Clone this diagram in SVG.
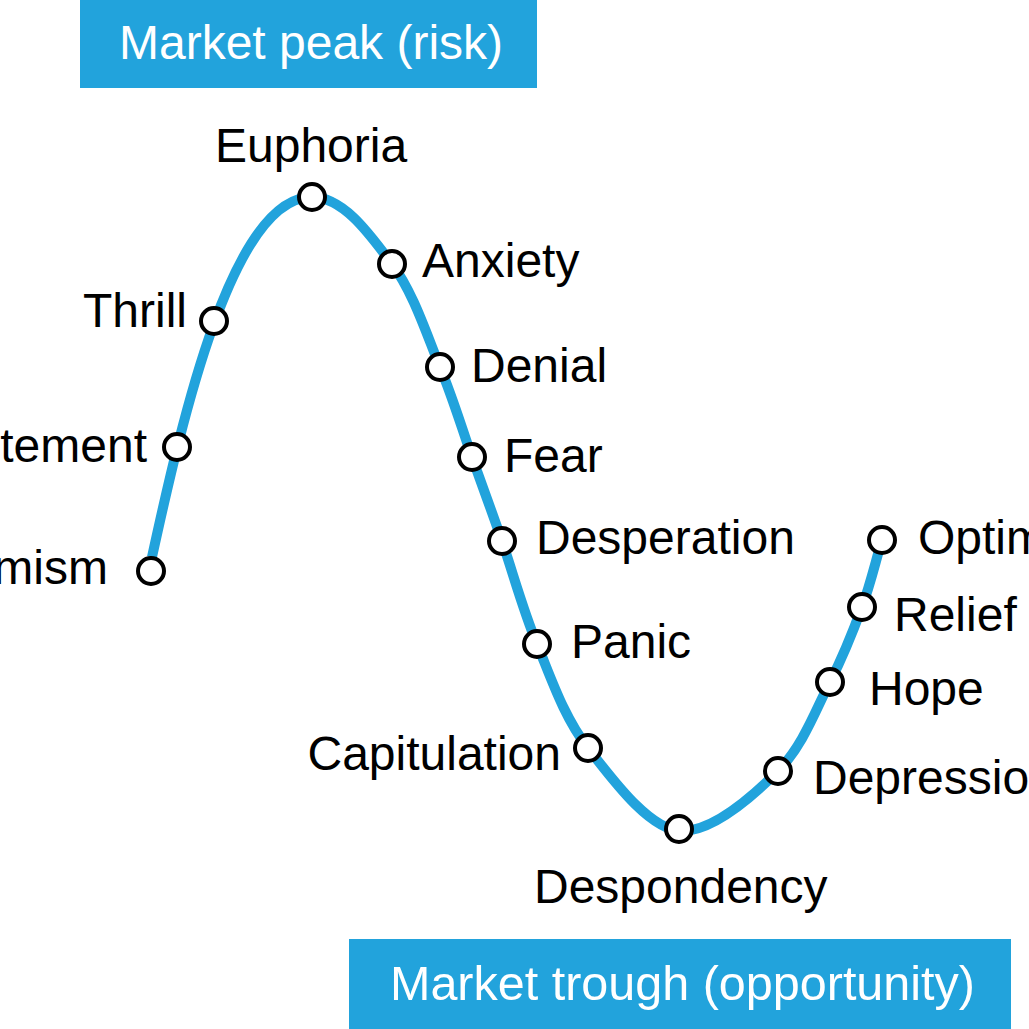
<svg xmlns="http://www.w3.org/2000/svg" width="1029" height="1029" viewBox="0 0 1029 1029">
<style>
.band{fill:#22a3dc}
.bt{font-family:"Liberation Sans",Arial,sans-serif;font-size:48px;fill:#ffffff}
.lbl{font-family:"Liberation Sans",Arial,sans-serif;font-size:48px;fill:#000000}
.end{text-anchor:end}
.curve{fill:none;stroke:#22a3dc;stroke-width:10;stroke-linecap:butt}
.pt{fill:#ffffff;stroke:#000000;stroke-width:4}
</style>
<rect width="1029" height="1029" fill="#ffffff"/>
<g id="peak-band">
<rect class="band" x="80" y="0" width="457" height="88"/>
<text class="bt" x="119" y="59">Market peak (risk)</text>
</g>
<g id="trough-band">
<rect class="band" x="349" y="939" width="662" height="90"/>
<text class="bt" x="390" y="1000" style="font-size:48.5px">Market trough (opportunity)</text>
</g>
<g id="connectors">
<path class="curve" d="M152,557 C182,420 232,197 312,197 C344,197 370.7,235.7 392,264 C413.3,292.3 426.7,334.8 440,367 C453.3,399.2 461.7,428 472,457 C482.3,486 491.2,509.8 502,541 C512.8,572.2 522.7,609.5 537,644 C551.3,678.5 563.8,717 588,748 C612.2,779 650,831 682,831 C714,831 753.3,795.7 778,771 C802.7,746.3 816,709.3 830,682 C844,654.7 853.3,630.7 862,607 C870.7,583.3 875.3,562.3 882,540"/>
</g>
<g id="optimism-start"><circle class="pt" cx="151" cy="571" r="13"/><text class="lbl end" x="108" y="584">Optimism</text></g>
<g id="excitement"><circle class="pt" cx="177" cy="447" r="13"/><text class="lbl end" x="147" y="462">Excitement</text></g>
<g id="thrill"><circle class="pt" cx="214" cy="321" r="13"/><text class="lbl end" x="187" y="327">Thrill</text></g>
<g id="euphoria"><circle class="pt" cx="312" cy="197" r="13"/><text class="lbl" x="215" y="162">Euphoria</text></g>
<g id="anxiety"><circle class="pt" cx="392" cy="264" r="13"/><text class="lbl" x="422" y="277">Anxiety</text></g>
<g id="denial"><circle class="pt" cx="440" cy="367" r="13"/><text class="lbl" x="471" y="382">Denial</text></g>
<g id="fear"><circle class="pt" cx="472" cy="457" r="13"/><text class="lbl" x="504" y="472">Fear</text></g>
<g id="desperation"><circle class="pt" cx="502" cy="541" r="13"/><text class="lbl" x="536" y="554">Desperation</text></g>
<g id="panic"><circle class="pt" cx="537" cy="644" r="13"/><text class="lbl" x="571" y="658">Panic</text></g>
<g id="capitulation"><circle class="pt" cx="588" cy="748" r="13"/><text class="lbl end" x="561" y="770">Capitulation</text></g>
<g id="despondency"><circle class="pt" cx="679" cy="829" r="13"/><text class="lbl" x="534" y="903">Despondency</text></g>
<g id="depression"><circle class="pt" cx="778" cy="771" r="13"/><text class="lbl" x="813" y="794">Depression</text></g>
<g id="hope"><circle class="pt" cx="830" cy="682" r="13"/><text class="lbl" x="869" y="705">Hope</text></g>
<g id="relief"><circle class="pt" cx="862" cy="607" r="13"/><text class="lbl" x="894" y="631">Relief</text></g>
<g id="optimism-end"><circle class="pt" cx="882" cy="540" r="13"/><text class="lbl" x="918" y="554">Optimism</text></g>
</svg>
